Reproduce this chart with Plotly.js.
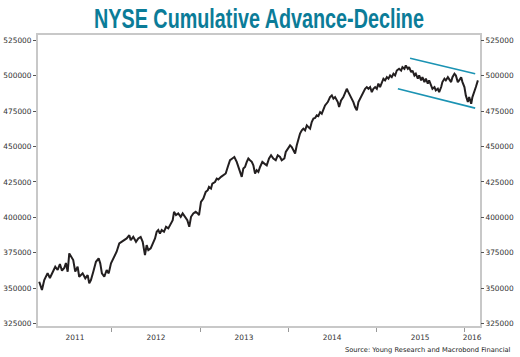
<!DOCTYPE html>
<html><head><meta charset="utf-8">
<script src="https://cdn.plot.ly/plotly-3.0.1.min.js"></script>
<style>html,body{margin:0;padding:0;background:#fff}#chart{width:520px;height:357px}</style>
</head><body><div id="chart"></div>
<script>
// Dates as decimal years, values = NYSE cumulative advance-decline line
const dates = [2011.174,2011.205,2011.231,2011.269,2011.295,2011.326,2011.356,2011.383,2011.409,2011.432,2011.458,2011.477,2011.497,2011.515,2011.534,2011.560,2011.583,2011.610,2011.628,2011.667,2011.697,2011.724,2011.742,2011.761,2011.788,2011.818,2011.849,2011.867,2011.886,2011.913,2011.940,2011.963,2011.989,
2012.015,2012.053,2012.083,2012.110,2012.148,2012.167,2012.197,2012.213,2012.242,2012.273,2012.299,2012.326,2012.349,2012.375,2012.394,2012.413,2012.440,2012.463,2012.489,2012.508,2012.526,2012.545,2012.565,2012.591,2012.614,2012.640,2012.659,2012.690,2012.705,2012.727,2012.753,2012.781,2012.803,2012.830,2012.856,2012.878,
2012.898,2012.924,2012.951,2012.974,2012.989,
2013.011,2013.038,2013.065,2013.088,2013.102,2013.125,2013.140,2013.170,2013.190,2013.208,2013.239,2013.265,2013.292,2013.315,2013.341,2013.367,2013.390,2013.417,2013.435,2013.455,2013.474,2013.492,2013.511,2013.531,2013.549,2013.568,2013.588,2013.606,2013.625,2013.644,2013.663,
2013.682,2013.708,2013.731,2013.758,2013.784,2013.807,2013.833,2013.860,2013.883,2013.909,2013.928,2013.958,2013.974,2013.997,2014.023,2014.042,2014.060,2014.080,2014.099,2014.117,2014.136,2014.156,2014.174,2014.193,2014.213,2014.231,2014.250,2014.269,2014.288,2014.307,2014.326,2014.344,2014.364,2014.383,2014.401,2014.420,
2014.451,2014.477,2014.497,2014.515,2014.534,2014.565,2014.580,2014.602,2014.628,2014.648,2014.667,2014.685,2014.705,2014.724,2014.742,2014.761,2014.781,2014.799,2014.818,2014.838,2014.856,2014.875,2014.894,2014.913,2014.932,2014.951,2014.969,2014.989,2015.008,2015.026,2015.045,2015.065,2015.083,2015.102,2015.122,2015.140,2015.159,2015.178,2015.197,2015.216,
2015.235,2015.261,2015.284,2015.299,2015.322,2015.337,2015.360,2015.375,2015.398,2015.413,2015.435,2015.451,2015.474,2015.489,2015.511,2015.526,2015.549,2015.565,2015.587,2015.602,2015.625,2015.640,2015.663,2015.678,2015.701,2015.716,2015.739,2015.753,2015.776,2015.792,2015.815,2015.830,2015.852,2015.867,2015.890,2015.906,2015.928,2015.943,2015.966,2015.981,2016.003,2016.019,2016.042,2016.057,2016.080,2016.094,2016.117,2016.133,2016.156];

const adLine = [354500,348700,355700,360600,357100,361600,365100,362800,367000,362300,364200,367700,361600,374500,372100,369800,361600,365100,358000,360400,356900,359200,353400,355700,361600,368600,371000,367500,360400,358000,362800,360400,367500,
371000,375700,381600,382700,383900,385100,387400,383900,386200,382700,385100,386200,382700,373300,380400,376900,378100,381600,385100,389800,391000,388600,391000,389800,393300,392200,394500,398000,403900,401600,402800,400400,402800,400400,398000,393300,
400400,402800,403900,402800,401600,
410900,413300,418000,419200,421500,420400,423900,425000,427400,426800,428600,429800,431000,435600,440400,441600,442700,439200,435600,432100,428600,434500,435600,439200,441600,440400,439200,436800,431000,433300,432100,
435600,439200,438000,436800,441600,443900,441600,440400,443900,442700,440400,441600,446200,448600,450900,449700,447400,445100,450900,455700,459200,461500,462700,461500,465000,463800,462700,467400,469800,470200,472100,471600,474400,473300,476800,479100,
481500,485000,486200,483900,485000,481500,478000,482700,485000,488500,490900,488500,486200,483900,481500,478000,475600,481500,483900,487400,488500,490900,492100,490900,492100,488500,490900,492100,490900,494500,492100,495600,498000,496800,499100,498000,500300,499100,501500,500300,
503800,505000,503800,506200,505000,507400,505000,506200,502600,503800,500300,501500,498000,500300,496800,499100,495600,498000,494500,496800,493300,490900,492100,489700,490900,488500,492100,495600,498000,496800,499100,498000,495600,499100,501500,500300,495600,496800,499100,495600,492100,486200,481500,485000,480300,485000,488500,492100,496800];

// Downward channel drawn on the chart
const upperX = [2015.386, 2016.125];
const upperY = [512500, 501500];
const lowerX = [2015.247, 2016.125];
const lowerY = [490900, 477200];

// Axis ticks and labels
const yTicks = [325000,350000,375000,400000,425000,450000,475000,500000,525000];
const yearBounds = [2012,2013,2014,2015,2016];
const yearLabelPos = [2011.58,2012.5,2013.5,2014.5,2015.5,2016.09];
const yearLabels = ['2011','2012','2013','2014','2015','2016'];

const xRange = [2011.16, 2016.18];
const yRange = [323200, 528900];
const tickFont = {family:'DejaVu Sans, Verdana, sans-serif', size:7.4, color:'#333'};

const traces = [
  {x:dates, y:adLine, type:'scatter', mode:'lines', line:{color:'#231f20', width:2}, hoverinfo:'skip', xaxis:'x', yaxis:'y'},
  {x:upperX, y:upperY, type:'scatter', mode:'lines', line:{color:'#1b93b3', width:1.6}, hoverinfo:'skip', xaxis:'x', yaxis:'y'},
  {x:lowerX, y:lowerY, type:'scatter', mode:'lines', line:{color:'#1b93b3', width:1.6}, hoverinfo:'skip', xaxis:'x', yaxis:'y'}
];

const layout = {
  width:520, height:357,
  margin:{l:38, r:40, t:35, b:31},
  paper_bgcolor:'#fff', plot_bgcolor:'#fff',
  showlegend:false,
  title:{text:'NYSE Cumulative Advance-Decline', x:0.5, xanchor:'center', xref:'paper', y:0.948, yref:'container', yanchor:'middle',
         font:{family:'Liberation Sans Narrow, Arial Narrow, Liberation Sans, sans-serif', size:27, color:'#0b7c98', weight:'bold'}},
  xaxis:{range:xRange, type:'linear', showgrid:false, zeroline:false, showline:true, mirror:true, linecolor:'#c8c8c8', linewidth:2,
         tickmode:'array', tickvals:yearBounds, ticktext:yearBounds.map(()=>''), ticks:'outside', ticklen:4, tickcolor:'#999', tickwidth:1},
  xaxis2:{range:xRange, type:'linear', overlaying:'x', side:'bottom', anchor:'y', showgrid:false, zeroline:false, showline:false,
         tickmode:'array', tickvals:yearLabelPos, ticktext:yearLabels, ticks:'outside', ticklen:4, tickcolor:'rgba(0,0,0,0)', tickfont:tickFont},
  yaxis:{range:yRange, showgrid:false, zeroline:false, showline:true, mirror:true, linecolor:'#c8c8c8', linewidth:2,
         tickmode:'array', tickvals:yTicks, ticktext:yTicks.map(String), ticks:'outside', ticklen:3, tickcolor:'#555', tickwidth:1, tickfont:tickFont},
  yaxis2:{range:yRange, overlaying:'y', side:'right', anchor:'x', showgrid:false, zeroline:false, showline:false,
         tickmode:'array', tickvals:yTicks, ticktext:yTicks.map(String), ticks:'outside', ticklen:3, tickcolor:'#555', tickwidth:1, tickfont:tickFont},
  annotations:[{text:'Source: Young Research and Macrobond Financial', xref:'paper', yref:'paper', x:1.074, y:-0.082, xanchor:'right', yanchor:'middle', showarrow:false,
         font:{family:'DejaVu Sans, Verdana, sans-serif', size:6.7, color:'#222'}}]
};
// dummy traces to activate secondary axes
traces.push({x:[xRange[0]], y:[yRange[0]], type:'scatter', mode:'none', xaxis:'x2', yaxis:'y', hoverinfo:'skip'});
traces.push({x:[xRange[0]], y:[yRange[0]], type:'scatter', mode:'none', xaxis:'x', yaxis:'y2', hoverinfo:'skip'});

Plotly.newPlot('chart', traces, layout, {staticPlot:true, displayModeBar:false}).then(function(gd){
  // condense the title horizontally to mimic the original's condensed typeface
  const t = gd.querySelector('.gtitle');
  if (t) {
    const w = t.getComputedTextLength();
    const cx = parseFloat(t.getAttribute('x')) || 260;
    const s = 330 / w;
    t.setAttribute('transform', 'translate(' + cx + ',0) scale(' + s.toFixed(4) + ',1) translate(' + (-cx) + ',0)');
  }
});
</script>
</body></html>
